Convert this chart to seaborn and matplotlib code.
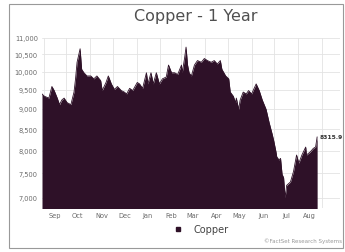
import pandas as pd
import numpy as np

import seaborn as sns
import matplotlib.pyplot as plt
import matplotlib.dates as mdates
from matplotlib.ticker import FixedLocator, FuncFormatter, NullLocator, NullFormatter
from matplotlib.lines import Line2D
from matplotlib.patches import Rectangle


# copper price
dates = [
    "2021-08-30", "2021-09-02", "2021-09-08", "2021-09-12", "2021-09-15", "2021-09-19",
    "2021-09-22", "2021-09-25", "2021-09-28", "2021-10-02", "2021-10-07", "2021-10-08",
    "2021-10-11", "2021-10-13", "2021-10-15", "2021-10-19", "2021-10-21", "2021-10-24",
    "2021-10-28", "2021-11-02", "2021-11-06", "2021-11-10", "2021-11-15", "2021-11-17",
    "2021-11-22", "2021-11-25", "2021-11-29", "2021-12-03", "2021-12-07", "2021-12-12",
    "2021-12-16", "2021-12-19", "2021-12-23", "2021-12-27", "2022-01-02", "2022-01-05",
    "2022-01-09", "2022-01-14", "2022-01-16", "2022-01-20", "2022-01-23", "2022-01-27",
    "2022-01-31", "2022-02-04", "2022-02-09", "2022-02-12", "2022-02-16", "2022-02-20",
    "2022-02-24", "2022-03-01", "2022-03-02", "2022-03-05", "2022-03-07", "2022-03-09",
    "2022-03-11", "2022-03-14", "2022-03-18", "2022-03-22", "2022-03-27", "2022-03-31",
    "2022-04-04", "2022-04-09", "2022-04-13", "2022-04-17", "2022-04-21", "2022-04-23",
    "2022-04-28", "2022-05-02", "2022-05-04", "2022-05-08", "2022-05-11", "2022-05-12",
    "2022-05-15", "2022-05-17", "2022-05-21", "2022-05-25", "2022-05-28", "2022-06-01",
    "2022-06-07", "2022-06-11", "2022-06-15", "2022-06-20", "2022-06-24", "2022-06-28",
    "2022-06-30", "2022-07-03", "2022-07-04", "2022-07-07", "2022-07-09", "2022-07-11",
    "2022-07-13", "2022-07-15", "2022-07-17", "2022-07-22", "2022-07-26", "2022-07-30",
    "2022-08-02", "2022-08-06", "2022-08-11", "2022-08-12", "2022-08-17", "2022-08-21",
    "2022-08-24", "2022-08-26",
]
prices = [
    9390, 9330, 9280, 9590, 9480, 9280,
    9110, 9230, 9280, 9160, 9110, 9200,
    9440, 9800, 10270, 10670, 10070, 9970,
    9880, 9880, 9800, 9880, 9750, 9480,
    9700, 9880, 9660, 9510, 9590, 9480,
    9440, 9390, 9540, 9480, 9700, 9660,
    9540, 9970, 9660, 9970, 9660, 9970,
    9660, 9800, 9850, 10190, 9970, 9970,
    9920, 10190, 9970, 10380, 10720, 10190,
    9970, 9880, 10190, 10320, 10270, 10380,
    10320, 10270, 10320, 10220, 10320, 10070,
    9880, 9800, 9440, 9330, 9160, 9280,
    8990, 9230, 9440, 9390, 9480, 9390,
    9660, 9480, 9230, 8990, 8660, 8380,
    8230, 7970, 7860, 7790, 7825, 7480,
    7410, 7000, 7250, 7320, 7540, 7900,
    7720, 7900, 8080, 7900, 7970, 8050,
    8080, 8315.9,
]
y_ticks = [7000, 7500, 8000, 8500, 9000, 9500, 10000, 10500, 11000]
month_labels = pd.date_range("2021-09-01", "2022-08-01", freq="MS") + pd.Timedelta(days=15)

df = pd.DataFrame({"date": pd.to_datetime(dates), "price": prices})

fill_color = "#2e1128"
text_gray = "#6a6a6a"

sns.set_style("whitegrid")
fig = plt.figure(figsize=(3.45, 2.53), dpi=100)
ax = fig.add_axes([42 / 345, 1 - 209 / 253, (340 - 42) / 345, (209 - 39) / 253])

sns.lineplot(data=df, x="date", y="price", ax=ax, color=fill_color, linewidth=0.6)
ax.fill_between(df["date"], df["price"], 6000, color=fill_color, linewidth=0)

ax.set_yscale("log")
ax.set_ylim(6800, 11000)
ax.yaxis.set_major_locator(FixedLocator(y_ticks))
ax.yaxis.set_major_formatter(FuncFormatter(lambda v, p: f"{int(v):,}"))
ax.yaxis.set_minor_locator(NullLocator())

ax.set_xlim(df["date"].iloc[0], pd.Timestamp("2022-09-25"))
ax.xaxis.set_major_locator(mdates.MonthLocator(bymonthday=1))
ax.xaxis.set_major_formatter(NullFormatter())
ax.xaxis.set_minor_locator(FixedLocator(mdates.date2num(month_labels)))
ax.xaxis.set_minor_formatter(mdates.DateFormatter("%b"))
ax.tick_params(axis="both", which="both", length=0, labelsize=4.8, labelcolor=text_gray, pad=3)

ax.grid(True, which="major", color="#e3e3e3", linewidth=0.6)
ax.set_axisbelow(True)
for s in ax.spines.values():
    s.set_visible(False)
ax.set_xlabel("")
ax.set_ylabel("")

# last value label
last = df.iloc[-1]
ax.annotate(f"{last['price']:.1f}", (last["date"], last["price"]), xytext=(2, 0),
            textcoords="offset points", fontsize=4.3, fontweight="bold",
            color="#333333", va="center", ha="left")

fig.text(196 / 345, 1 - 17 / 253, "Copper - 1 Year", ha="center", va="center",
         fontsize=11.5, color="#505050")

handle = Line2D([], [], marker="s", linestyle="none", color=fill_color, markersize=3.5)
fig.legend([handle], ["Copper"], loc="center", bbox_to_anchor=(198 / 345, 1 - 230 / 253),
           frameon=False, fontsize=7, handletextpad=0.6, labelcolor="#444444")

fig.text(342 / 345, 1 - 241 / 253, "©FactSet Research Systems", ha="right", va="center",
         fontsize=4, color="#999999")

fig.patches.append(Rectangle((9 / 345, 1 - 249 / 253), (343 - 9) / 345, (249 - 5) / 253,
                             transform=fig.transFigure, fill=False,
                             edgecolor="#999999", linewidth=0.8))

fig.savefig("out.png", dpi=100)
